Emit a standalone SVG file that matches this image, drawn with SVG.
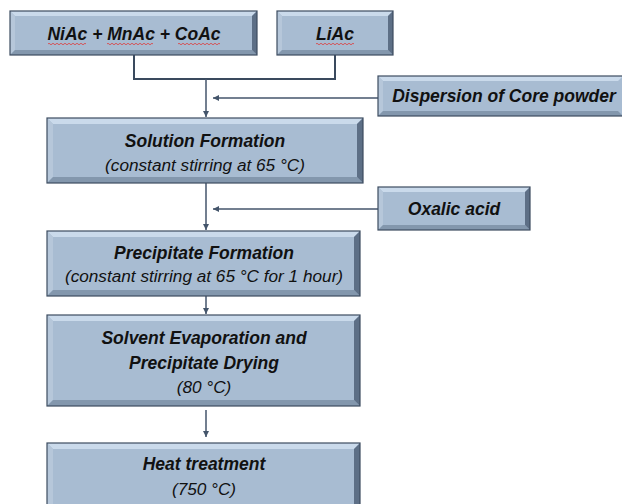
<svg xmlns="http://www.w3.org/2000/svg" width="622" height="504" viewBox="0 0 622 504">
<style>
.face{fill:#a8bcd2}
.bt{fill:#cadaeb}
.bl{fill:#b6c7da}
.bb{fill:#8397ad}
.br{fill:#5d6f86}
.edge{fill:none;stroke:#3c4c60;stroke-width:1.2}
.t{font-family:"Liberation Sans",Arial,sans-serif;font-style:italic;fill:#111;text-anchor:middle}
.b{font-weight:bold;font-size:17.5px}
.r{font-size:17.2px}
.conn{fill:none;stroke:#44556b;stroke-width:1.5}
.brk{fill:none;stroke:#3a4a5e;stroke-width:2}
.wavy{fill:none;stroke:#e03a3a;stroke-width:0.8}
</style>
<defs>
<marker id="ah" markerWidth="8" markerHeight="8" refX="6" refY="4" orient="auto" markerUnits="userSpaceOnUse">
<path d="M0,1 L6,4 L0,7 Z" fill="#44556b"/>
</marker>
</defs>
<g id="connectors">
<path class="brk" d="M134,55 V79 H335 V55"/>
<path class="conn" d="M206,79 V117" marker-end="url(#ah)"/>
<path class="conn" d="M378,98 H213" marker-end="url(#ah)"/>
<path class="conn" d="M206,183 V230" marker-end="url(#ah)"/>
<path class="conn" d="M378,209 H213" marker-end="url(#ah)"/>
<path class="conn" d="M206,296 V314" marker-end="url(#ah)"/>
<path class="conn" d="M206,410 V437" marker-end="url(#ah)"/>
</g>
<g id="n1">
<rect class="face" x="10" y="11" width="247" height="44"/>
<polygon class="bt" points="10,11 257,11 252,16 15,16"/>
<polygon class="bl" points="10,11 15,16 15,50 10,55"/>
<polygon class="bb" points="10,55 15,50 252,50 257,55"/>
<polygon class="br" points="257,11 257,55 252,50 252,16"/>
<rect class="edge" x="10" y="11" width="247" height="44"/>
<text class="t b" x="134" y="40">NiAc + MnAc + CoAc</text>
<path class="wavy" d="M48,44 q1,-1.5 2,0 t2,0 t2,0 t2,0 t2,0 t2,0 t2,0 t2,0 t2,0 t2,0 t2,0 t2,0 t2,0 t2,0 t2,0 t2,0 t2,0 t2,0 t2,0"/>
<path class="wavy" d="M107,44 q1,-1.5 2,0 t2,0 t2,0 t2,0 t2,0 t2,0 t2,0 t2,0 t2,0 t2,0 t2,0 t2,0 t2,0 t2,0 t2,0 t2,0 t2,0 t2,0 t2,0 t2,0 t2,0 t2,0 t2,0"/>
<path class="wavy" d="M178,44 q1,-1.5 2,0 t2,0 t2,0 t2,0 t2,0 t2,0 t2,0 t2,0 t2,0 t2,0 t2,0 t2,0 t2,0 t2,0 t2,0 t2,0 t2,0 t2,0 t2,0 t2,0 t2,0"/>
</g>
<g id="n2">
<rect class="face" x="277" y="11" width="116" height="44"/>
<polygon class="bt" points="277,11 393,11 388,16 282,16"/>
<polygon class="bl" points="277,11 282,16 282,50 277,55"/>
<polygon class="bb" points="277,55 282,50 388,50 393,55"/>
<polygon class="br" points="393,11 393,55 388,50 388,16"/>
<rect class="edge" x="277" y="11" width="116" height="44"/>
<text class="t b" x="335" y="40">LiAc</text>
<path class="wavy" d="M316,44 q1,-1.5 2,0 t2,0 t2,0 t2,0 t2,0 t2,0 t2,0 t2,0 t2,0 t2,0 t2,0 t2,0 t2,0 t2,0 t2,0 t2,0 t2,0 t2,0 t2,0"/>
</g>
<g id="n3">
<rect class="face" x="378" y="76" width="245" height="40"/>
<polygon class="bt" points="378,76 623,76 618,81 383,81"/>
<polygon class="bl" points="378,76 383,81 383,111 378,116"/>
<polygon class="bb" points="378,116 383,111 618,111 623,116"/>
<rect class="edge" x="378" y="76" width="245" height="40"/>
<text class="t b" x="504" y="102">Dispersion of Core powder</text>
</g>
<g id="n4">
<rect class="face" x="47" y="118" width="316" height="65"/>
<polygon class="bt" points="47,118 363,118 357,124 53,124"/>
<polygon class="bl" points="47,118 53,124 53,177 47,183"/>
<polygon class="bb" points="47,183 53,177 357,177 363,183"/>
<polygon class="br" points="363,118 363,183 357,177 357,124"/>
<rect class="edge" x="47" y="118" width="316" height="65"/>
<text class="t b" x="205" y="147">Solution Formation</text>
<text class="t r" x="205" y="171">(constant stirring at 65 °C)</text>
</g>
<g id="n5">
<rect class="face" x="378" y="187" width="152" height="43"/>
<polygon class="bt" points="378,187 530,187 525,192 383,192"/>
<polygon class="bl" points="378,187 383,192 383,225 378,230"/>
<polygon class="bb" points="378,230 383,225 525,225 530,230"/>
<polygon class="br" points="530,187 530,230 525,225 525,192"/>
<rect class="edge" x="378" y="187" width="152" height="43"/>
<text class="t b" x="454" y="215">Oxalic acid</text>
</g>
<g id="n6">
<rect class="face" x="47" y="231" width="313" height="65"/>
<polygon class="bt" points="47,231 360,231 354,237 53,237"/>
<polygon class="bl" points="47,231 53,237 53,290 47,296"/>
<polygon class="bb" points="47,296 53,290 354,290 360,296"/>
<polygon class="br" points="360,231 360,296 354,290 354,237"/>
<rect class="edge" x="47" y="231" width="313" height="65"/>
<text class="t b" x="204" y="259">Precipitate Formation</text>
<text class="t r" x="204" y="282">(constant stirring at 65 °C for 1 hour)</text>
</g>
<g id="n7">
<rect class="face" x="47" y="315" width="313" height="91"/>
<polygon class="bt" points="47,315 360,315 354,321 53,321"/>
<polygon class="bl" points="47,315 53,321 53,400 47,406"/>
<polygon class="bb" points="47,406 53,400 354,400 360,406"/>
<polygon class="br" points="360,315 360,406 354,400 354,321"/>
<rect class="edge" x="47" y="315" width="313" height="91"/>
<text class="t b" x="204" y="344">Solvent Evaporation and</text>
<text class="t b" x="204" y="369">Precipitate Drying</text>
<text class="t r" x="204" y="393">(80 °C)</text>
</g>
<g id="n8">
<rect class="face" x="47" y="443" width="313" height="64"/>
<polygon class="bt" points="47,443 360,443 354,449 53,449"/>
<polygon class="bl" points="47,443 53,449 53,507 47,507"/>
<polygon class="br" points="360,443 360,507 354,507 354,449"/>
<rect class="edge" x="47" y="443" width="313" height="64"/>
<text class="t b" x="204" y="470">Heat treatment</text>
<text class="t r" x="204" y="495">(750 °C)</text>
</g>
</svg>
